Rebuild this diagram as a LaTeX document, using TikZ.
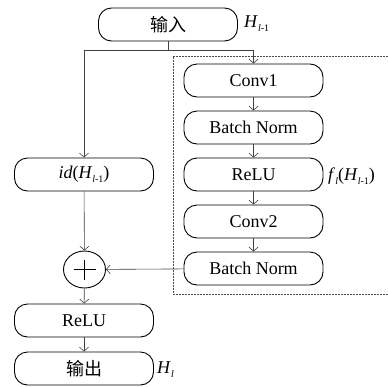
\documentclass[tikz,border=0pt]{standalone}
\usepackage{fontspec}
\setmainfont{Liberation Serif}
\newfontfamily\cjk{Noto Sans CJK SC}
\usetikzlibrary{arrows.meta,shapes.geometric}
\newcommand{\subl}[1]{\raisebox{-4pt}{\fontsize{10}{10}\selectfont #1}}
\begin{document}
\begin{tikzpicture}[x=1pt,y=-1pt,
  blk/.style={draw,line width=0.9pt,rounded corners=13pt,minimum width=139pt,minimum height=33pt,inner sep=0pt,font=\fontsize{18}{20}\selectfont},
  lbl/.style={anchor=west,inner sep=0pt,font=\fontsize{18}{20}\selectfont},
  conn/.style={line width=0.6pt,draw=black!75},
  arr/.style={conn,-{Straight Barb[length=4pt,width=9pt,line width=0.6pt]}},
  frameline/.style={line width=0.6pt,draw=black!70,dash pattern=on 2pt off 1pt}
]
\useasboundingbox (0,0) rectangle (388,386);
% dashed frame
\draw[frameline] (388,56) -- (173,56) -- (173,294) -- (388,294);
% nodes
\node[blk] (inp) at (168,24.5) {\cjk 输入};
\node[blk] (c1) at (253.5,80.5) {Conv1};
\node[blk] (bn1) at (253.5,127.5) {Batch Norm};
\node[blk] (r1) at (253.5,174.5) {ReLU};
\node[blk] (c2) at (253.5,221.5) {Conv2};
\node[blk] (bn2) at (253.5,268.5) {Batch Norm};
\node[blk] (id) at (84,174.5) {\textit{id}(\textit{H}\subl{\textit{l}-1})};
\node[draw,ellipse,line width=0.9pt,minimum width=42pt,minimum height=37pt,inner sep=0pt] (sum) at (84.5,269.5) {};
\draw[line width=1.3pt] ([xshift=-11pt]sum.center) -- ([xshift=11pt]sum.center)
  ([yshift=-10pt]sum.center) -- ([yshift=10pt]sum.center);
\node[blk] (r2) at (84,320.5) {ReLU};
\node[blk] (out) at (84,368.5) {\cjk 输出};
% labels
\node[lbl] (hin) at (244,24) {\textit{H}\subl{\textit{l}-1}};
\node[lbl] (fl) at (328,176) {\textit{f}\subl{\textit{l}}(\textit{H}\subl{\textit{l}-1})};
\node[lbl] (hout) at (157,370) {\textit{H}\subl{\textit{l}}};
% connectors
\coordinate (sp) at (168,50);
\coordinate (spl) at (84,50);
\coordinate (spr) at (253.5,50);
\draw[conn] (inp.south) -- (sp);
\draw[conn] (spl) -- (spr);
\draw[arr] (spl) -- (id.north);
\draw[arr] (spr) -- (c1.north);
\draw[arr] (c1) -- (bn1);
\draw[arr] (bn1) -- (r1);
\draw[arr] (r1) -- (c2);
\draw[arr] (c2) -- (bn2);
\draw[arr] (id) -- (sum);
\draw[arr] (bn2) -- (sum);
\draw[arr] (sum) -- (r2);
\draw[arr] (r2) -- (out);
\end{tikzpicture}
\end{document}
